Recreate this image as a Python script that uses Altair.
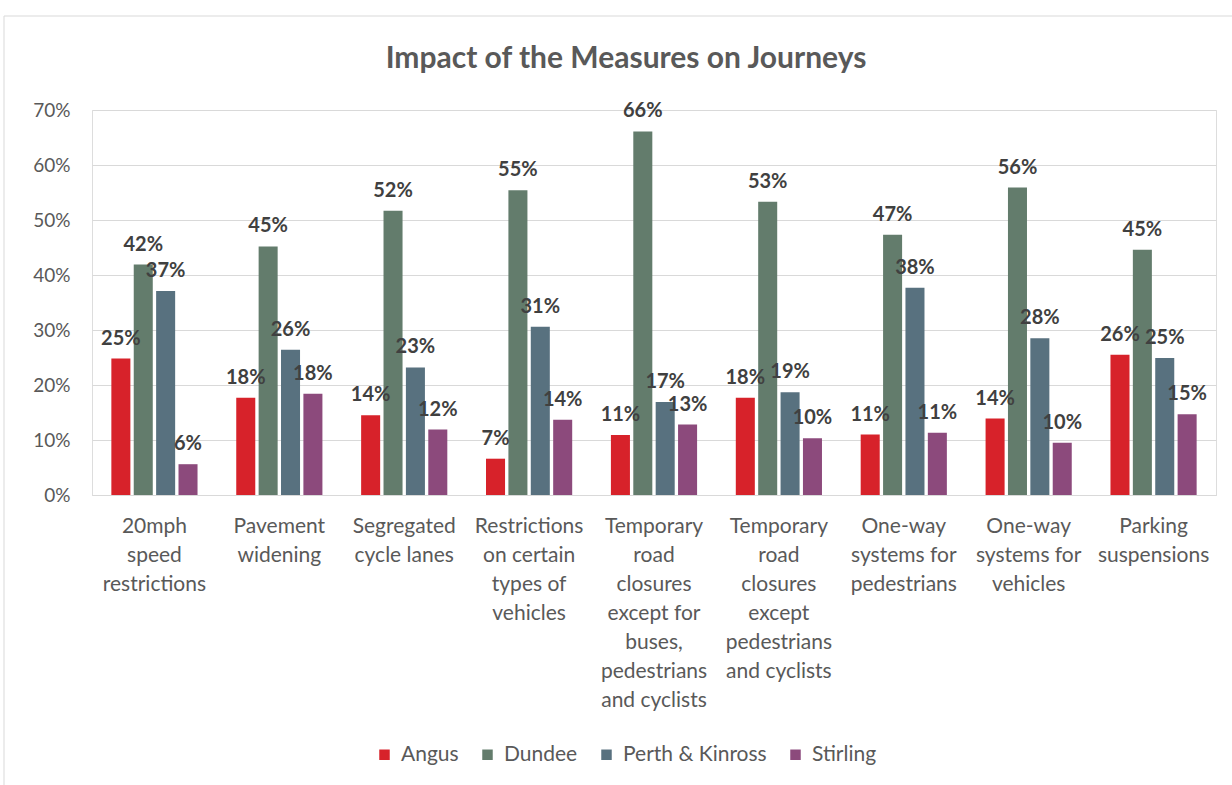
import altair as alt
import pandas as pd

categories = [
    "20mph|speed|restrictions",
    "Pavement|widening",
    "Segregated|cycle lanes",
    "Restrictions|on certain|types of|vehicles",
    "Temporary|road|closures|except for|buses,|pedestrians|and cyclists",
    "Temporary|road|closures|except|pedestrians|and cyclists",
    "One-way|systems for|pedestrians",
    "One-way|systems for|vehicles",
    "Parking|suspensions",
]
series = ["Angus", "Dundee", "Perth & Kinross", "Stirling"]
angus = [24.8, 17.7, 14.5, 6.6, 10.9, 17.7, 11.0, 13.9, 25.5]
dundee = [41.9, 45.2, 51.7, 55.4, 66.1, 53.3, 47.3, 55.9, 44.6]
perth = [37.1, 26.4, 23.2, 30.6, 16.9, 18.7, 37.7, 28.5, 24.9]
stirling = [5.6, 18.4, 11.9, 13.7, 12.8, 10.3, 11.3, 9.5, 14.7]
colors = ["#D7222A", "#637C6C", "#58717F", "#8C4A7C"]

rows = []
for i, c in enumerate(categories):
    for s, vals in zip(series, [angus, dundee, perth, stirling]):
        rows.append({"cat": c, "series": s, "value": vals[i] / 100})
df = pd.DataFrame(rows)

FONT = "Lato"

base = alt.Chart(df).encode(
    x=alt.X(
        "cat:N",
        sort=categories,
        scale=alt.Scale(paddingInner=0.31, paddingOuter=0.155),
        axis=alt.Axis(
            title=None, labelAngle=0, labelExpr="split(datum.label, '|')",
            labelLineHeight=29, labelPadding=20, ticks=False,
            domainColor="#D9D9D9", domainWidth=1, labelFont=FONT,
            labelFontSize=21, labelColor="#595959", labelLimit=0,
            labelBaseline="top",
        ),
    ),
    xOffset=alt.XOffset("series:N", sort=series, scale=alt.Scale(paddingInner=0.15)),
    y=alt.Y(
        "value:Q",
        scale=alt.Scale(domain=[0, 0.7]),
        axis=alt.Axis(
            format=".0%", values=[0, 0.1, 0.2, 0.3, 0.4, 0.5, 0.6, 0.7],
            title=None, domain=False, ticks=False, labelPadding=22,
            gridColor="#D9D9D9", labelFont=FONT, labelFontSize=19,
            labelColor="#595959",
        ),
    ),
)

bars = base.mark_bar().encode(
    color=alt.Color(
        "series:N", sort=series,
        scale=alt.Scale(domain=series, range=colors),
        legend=alt.Legend(
            title=None, orient="none", legendX=282, legendY=634,
            direction="horizontal", symbolType="square", symbolSize=110,
            symbolStrokeWidth=0, symbolOpacity=1, labelFont=FONT,
            labelFontSize=21, labelColor="#595959", columnPadding=18,
            labelOffset=6,
        ),
    )
)

labels = base.mark_text(
    baseline="bottom", dy=-10, fontWeight="bold", fontSize=20,
    color="#404040", font=FONT,
).encode(text=alt.Text("value:Q", format=".0%"))

frame = alt.Chart(pd.DataFrame({"a": [0]})).mark_rect(
    fill=None, stroke="#D9D9D9", strokeWidth=1
).encode(
    x=alt.value(-88), x2=alt.value(1160), y=alt.value(-94), y2=alt.value(700)
)

chart = alt.layer(frame, bars, labels).properties(
    width=1124, height=385,
    autosize=alt.AutoSizeParams(type="none"),
    padding={"left": 92, "top": 110, "right": 16, "bottom": 290},
    title=alt.TitleParams(
        "Impact of the Measures on Journeys", fontSize=30, font=FONT,
        fontWeight="bold", color="#595959", anchor="middle", dx=-28, offset=-58,
    ),
).configure_view(stroke=None).configure(background="white")

chart.save("out.html", embed_options={"renderer": "svg", "actions": False})
